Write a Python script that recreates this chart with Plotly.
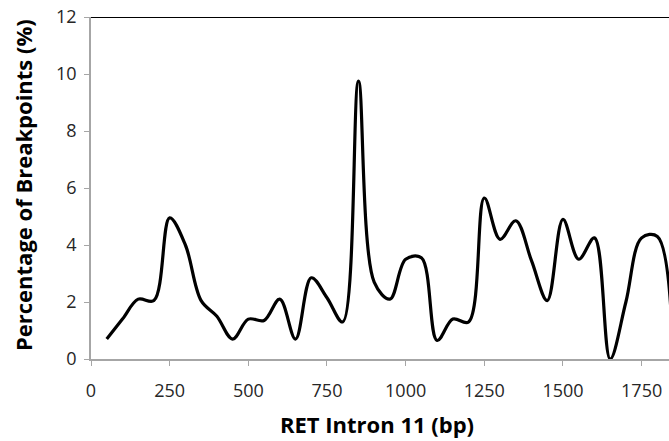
import plotly.graph_objects as go

# Data
position_bp = [50, 100, 150, 200, 250, 300, 350, 400, 450, 500, 550, 600, 650, 700,
               750, 800, 850, 900, 950, 1000, 1050, 1100, 1150, 1200, 1250, 1300,
               1350, 1400, 1450, 1500, 1550, 1600, 1650, 1700, 1750, 1800, 1850]
breakpoints_pct = [0.7, 1.4, 2.1, 2.05, 4.95, 4.0, 2.05, 1.5, 0.7, 1.4, 1.35, 2.1, 0.7, 2.85,
                   2.15, 1.3, 9.75, 2.7, 2.1, 3.5, 3.55, 0.65, 1.4, 1.3, 5.65, 4.2,
                   4.85, 3.45, 2.05, 4.9, 3.5, 4.25, 0.0, 2.0, 4.25, 4.3, 0.1]
x_ticks = [0, 250, 500, 750, 1000, 1250, 1500, 1750]
y_ticks = [0, 2, 4, 6, 8, 10, 12]

x_title = "RET Intron 11 (bp)"
y_title = "Percentage of Breakpoints (%)"

FONT = "Open Sans"
AXIS_GREY = "#a6a6a6"
TICK_TEXT = "#262626"

fig = go.Figure()
fig.add_trace(go.Scatter(
    x=position_bp, y=breakpoints_pct, mode="lines",
    line=dict(color="black", width=3.2, shape="spline", smoothing=1.0),
    showlegend=False, hoverinfo="x+y",
))

fig.update_layout(
    width=669, height=441,
    margin=dict(l=91, r=0, t=17, b=82),
    paper_bgcolor="white", plot_bgcolor="white",
    font=dict(family=FONT, color=TICK_TEXT),
    xaxis=dict(
        range=[0, 1837], tickvals=x_ticks, ticktext=[str(v) for v in x_ticks],
        showgrid=False, zeroline=False, showline=True, linecolor=AXIS_GREY, linewidth=1.5,
        ticks="outside", ticklen=5, tickcolor=AXIS_GREY, tickwidth=1.2,
        ticklabelstandoff=10,
        tickfont=dict(family=FONT, size=18, color=TICK_TEXT),
    ),
    yaxis=dict(
        range=[0, 12], tickvals=y_ticks, ticktext=[str(v) for v in y_ticks],
        showgrid=False, zeroline=False, showline=True, linecolor=AXIS_GREY, linewidth=1.5,
        ticks="outside", ticklen=5, tickcolor=AXIS_GREY, tickwidth=1.2,
        ticklabelstandoff=4,
        tickfont=dict(family=FONT, size=18, color=TICK_TEXT),
    ),
    shapes=[dict(type="line", xref="paper", yref="y", x0=0, x1=1, y0=12, y1=12,
                 line=dict(color="black", width=2), layer="above")],
    annotations=[
        dict(text="<b>" + x_title + "</b>", xref="paper", yref="paper",
             x=(377 - 91) / 578, y=(359 - 424) / 342, xanchor="center", yanchor="middle",
             showarrow=False, font=dict(family=FONT, size=22, color="black")),
        dict(text="<b>" + y_title + "</b>", xref="paper", yref="paper",
             x=(23 - 91) / 578, y=(359 - 185) / 342, xanchor="center", yanchor="middle",
             textangle=-90, showarrow=False, font=dict(family=FONT, size=22, color="black")),
    ],
)

fig.write_html("out.html")
